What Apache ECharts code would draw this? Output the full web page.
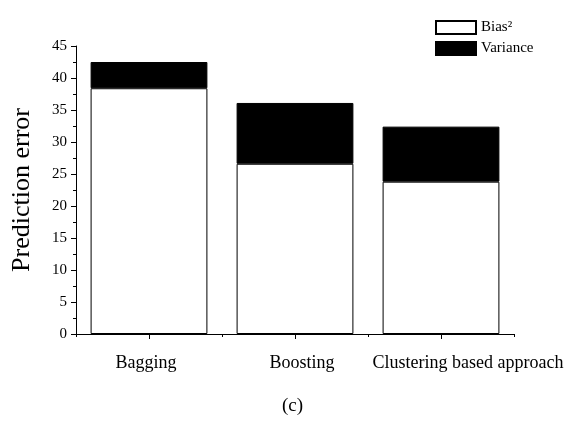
<!DOCTYPE html>
<html>
<head>
<meta charset="utf-8">
<script src="https://cdn.jsdelivr.net/npm/echarts@6/dist/echarts.min.js"></script>
<style>
html,body{margin:0;padding:0;background:#fff;}
#main{width:571px;height:433px;}
</style>
</head>
<body>
<div id="main"></div>
<script>
// data
var categories = ['Bagging', 'Boosting', 'Clustering based approach'];
var biasSq = [38.4, 26.6, 23.8];
var variance = [4.1, 9.5, 8.6];
var yTicks = { min: 0, max: 45, interval: 5 };

var serif = '"Liberation Serif", "DejaVu Serif", serif';
var lblFont = { fontFamily: serif, fontSize: 18, color: '#000' };

var option = {
	animation: false,
	backgroundColor: '#fff',
	textStyle: { fontFamily: serif, color: '#000' },
	title: {
		text: '(c)',
		left: 277,
		top: 392,
		textStyle: { fontFamily: serif, fontSize: 19, fontWeight: 'normal', color: '#000' }
	},
	legend: {
		orient: 'vertical',
		left: 435,
		top: 20,
		padding: 0,
		itemWidth: 40,
		itemHeight: 13,
		itemGap: 6,
		icon: 'rect',
		textStyle: { fontFamily: serif, fontSize: 15, color: '#000' },
		data: ['Bias²', 'Variance']
	},
	grid: { left: 76, right: 57, top: 46, bottom: 99 },
	xAxis: [{
		type: 'category',
		data: categories,
		axisLine: { lineStyle: { color: '#000', width: 1 } },
		axisTick: { show: true, length: 3, interval: 0, lineStyle: { color: '#000' } },
		axisLabel: {
			fontFamily: serif, fontSize: 18, color: '#000', margin: 20, interval: 0,
			// labels in the original are not exactly centred under their ticks
			formatter: function(v, i) {
				return ['{a|', '{b|', '{c|'][i] + v + '}';
			},
			rich: {
				a: Object.assign({ padding: [0, 6, 0, 0] }, lblFont),
				b: Object.assign({ padding: [0, 0, 0, 14] }, lblFont),
				c: Object.assign({ padding: [0, 0, 0, 54] }, lblFont)
			}
		}
	}, {
		type: 'category',
		data: categories,
		position: 'bottom',
		axisLine: { show: false },
		axisTick: { show: true, length: 5, alignWithLabel: true, interval: 0, lineStyle: { color: '#000' } },
		axisLabel: { show: false }
	}],
	yAxis: {
		type: 'value',
		min: yTicks.min,
		max: yTicks.max,
		interval: yTicks.interval,
		name: 'Prediction error',
		nameLocation: 'middle',
		nameGap: 41,
		nameTextStyle: { fontFamily: serif, fontSize: 26, color: '#000' },
		axisLine: { show: true, lineStyle: { color: '#000', width: 1 } },
		axisTick: { show: true, length: 5, lineStyle: { color: '#000' } },
		minorTick: { show: true, splitNumber: 2, length: 3, lineStyle: { color: '#000' } },
		splitLine: { show: false },
		axisLabel: { fontFamily: serif, fontSize: 15, color: '#000', margin: 9 }
	},
	series: [{
		name: 'Bias²',
		type: 'bar',
		stack: 'err',
		data: biasSq,
		barWidth: '80%',
		itemStyle: { color: '#fff', borderColor: '#000', borderWidth: 1 }
	}, {
		name: 'Variance',
		type: 'bar',
		stack: 'err',
		data: variance,
		barWidth: '80%',
		itemStyle: { color: '#000', borderColor: '#000', borderWidth: 1 }
	}]
};

var myChart = echarts.init(document.getElementById('main'), null, { renderer: 'canvas' });
myChart.setOption(option);
</script>
</body>
</html>
